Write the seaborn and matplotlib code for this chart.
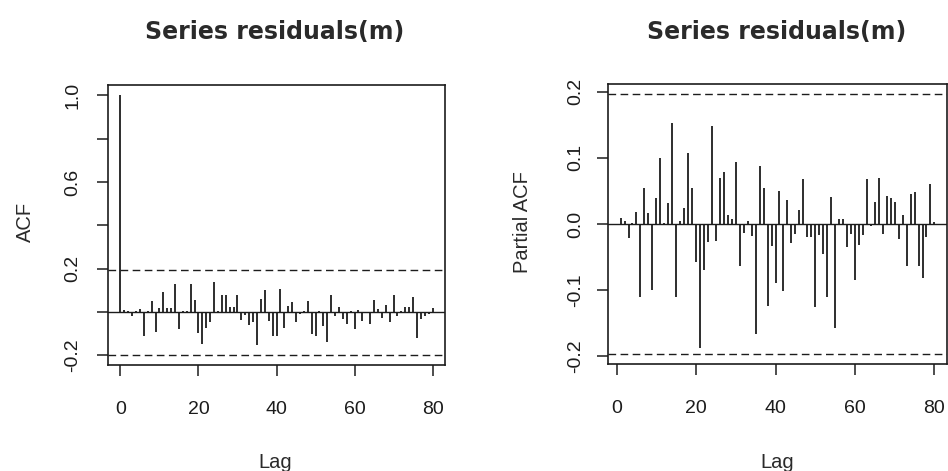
import numpy as np
import pandas as pd
import matplotlib
matplotlib.use("Agg")
import matplotlib.pyplot as plt
import seaborn as sns

# ---------------- data ----------------
acf_lags = list(range(0, 81))
acf_values = [
    1.0, 0.008, 0.004, -0.02, 0.005, 0.015, -0.108, 0.004, 0.05, -0.092,
    0.02, 0.092, 0.02, 0.02, 0.13, -0.08, 0.003, 0.003, 0.13, 0.054,
    -0.097, -0.146, -0.072, -0.046, 0.138, 0.003, 0.077, 0.077, 0.023, 0.023,
    0.077, -0.038, -0.015, -0.06, -0.046, -0.15, 0.06, 0.1, -0.04, -0.108,
    -0.108, 0.105, -0.075, 0.028, 0.045, -0.045, -0.01, 0.004, 0.05, -0.1,
    -0.11, 0.004, -0.065, -0.14, 0.077, -0.018, 0.023, -0.034, -0.057, 0.005,
    -0.08, 0.01, -0.04, -0.005, -0.057, 0.054, 0.015, -0.026, 0.035, -0.045,
    0.08, -0.02, 0.005, 0.022, 0.022, 0.07, -0.12, -0.03, -0.018, -0.01,
    0.02,
]
pacf_lags = list(range(1, 81))
pacf_values = [
    0.009, 0.005, -0.021, 0.002, 0.018, -0.11, 0.055, 0.016, -0.1, 0.039,
    0.1, 0.002, 0.032, 0.152, -0.11, 0.005, 0.024, 0.107, 0.055, -0.057,
    -0.188, -0.069, -0.027, 0.148, -0.025, 0.07, 0.078, 0.014, 0.007, 0.094,
    -0.064, -0.014, 0.005, -0.018, -0.166, 0.088, 0.054, -0.124, -0.034, -0.089,
    0.05, -0.102, 0.036, -0.029, -0.015, 0.021, 0.068, -0.02, -0.019, -0.125,
    -0.016, -0.046, -0.11, 0.041, -0.158, 0.008, 0.008, -0.035, -0.015, -0.084,
    -0.031, -0.016, 0.068, -0.003, 0.034, 0.07, -0.015, 0.043, 0.039, 0.034,
    -0.023, 0.014, -0.063, 0.045, 0.048, -0.063, -0.081, -0.02, 0.061, 0.003,
]
conf_limit = 0.196
title_text = "Series residuals(m)"
x_ticks = [0, 20, 40, 60, 80]
acf_yticks = [-0.2, 0.0, 0.2, 0.4, 0.6, 0.8, 1.0]
acf_yticklabels = ["-0.2", "", "0.2", "", "0.6", "", "1.0"]
pacf_yticks = [-0.2, -0.1, 0.0, 0.1, 0.2]
pacf_yticklabels = ["-0.2", "-0.1", "0.0", "0.1", "0.2"]

acf_df = pd.DataFrame({"lag": acf_lags, "value": acf_values})
pacf_df = pd.DataFrame({"lag": pacf_lags, "value": pacf_values})

# ---------------- style ----------------
sns.set_theme(style="ticks")
plt.rcParams["font.family"] = ["Liberation Sans", "DejaVu Sans"]
ink = "#1c1c1c"
plt.rcParams["axes.edgecolor"] = ink
plt.rcParams["xtick.color"] = ink
plt.rcParams["ytick.color"] = ink
plt.rcParams["text.color"] = "#2a2a2a"

W, H = 948, 471
fig = plt.figure(figsize=(W / 100, H / 100), dpi=100)
fig.patch.set_facecolor("white")

TICK_FS = 14
LABEL_FS = 14.5


def px_rect(x0, x1, y0, y1):
    return [x0 / W, 1 - y1 / H, (x1 - x0) / W, (y1 - y0) / H]


ax1 = fig.add_axes(px_rect(108, 445, 85, 365))
ax2 = fig.add_axes(px_rect(608, 947, 84, 364))


def draw(ax, df, xlim, ylim, yticks, yticklabels, ylabel_x, ylabel, ylabel_pad):
    ax.set_facecolor("white")
    ax.vlines(df["lag"], 0, df["value"], color=ink, lw=1.3)
    ax.axhline(0, color=ink, lw=1.0)
    ax.axhline(conf_limit, color=ink, lw=1.0, ls=(0, (5.5, 3.2)))
    ax.axhline(-conf_limit, color=ink, lw=1.0, ls=(0, (5.5, 3.2)))
    ax.set_xlim(*xlim)
    ax.set_ylim(*ylim)
    for s in ax.spines.values():
        s.set_visible(True)
        s.set_linewidth(1.2)
        s.set_color(ink)
    ax.set_xticks(x_ticks)
    ax.set_xticklabels([str(t) for t in x_ticks], fontsize=TICK_FS)
    ax.set_yticks(yticks)
    ax.set_yticklabels(yticklabels, fontsize=TICK_FS, rotation=90, va="center")
    ax.tick_params(axis="x", direction="out", length=8, width=1.1, pad=18)
    ax.tick_params(axis="y", direction="out", length=8, width=1.1, pad=ylabel_pad)
    ax.set_xlabel("")
    ax.set_ylabel("")
    ax.grid(False)
    fig.text(ylabel_x / W, 1 - 222 / H, ylabel, rotation=90, ha="center",
             va="center", fontsize=LABEL_FS)


draw(ax1, acf_df, (-3.2, 83.2), (-0.244, 1.048), acf_yticks, acf_yticklabels,
     25, "ACF", 11)
draw(ax2, pacf_df, (-2.16, 83.16), (-0.2117, 0.2117), pacf_yticks,
     pacf_yticklabels, 522, "Partial ACF", 9)

for cx in (275, 777):
    fig.text(cx / W, 1 - 32 / H, title_text, ha="center", va="center",
             fontsize=17, fontweight="bold", family="DejaVu Sans")
    fig.text(cx / W, 1 - 462 / H, "Lag", ha="center", va="center",
             fontsize=LABEL_FS)

fig.savefig("out.png", dpi=100, facecolor="white")
